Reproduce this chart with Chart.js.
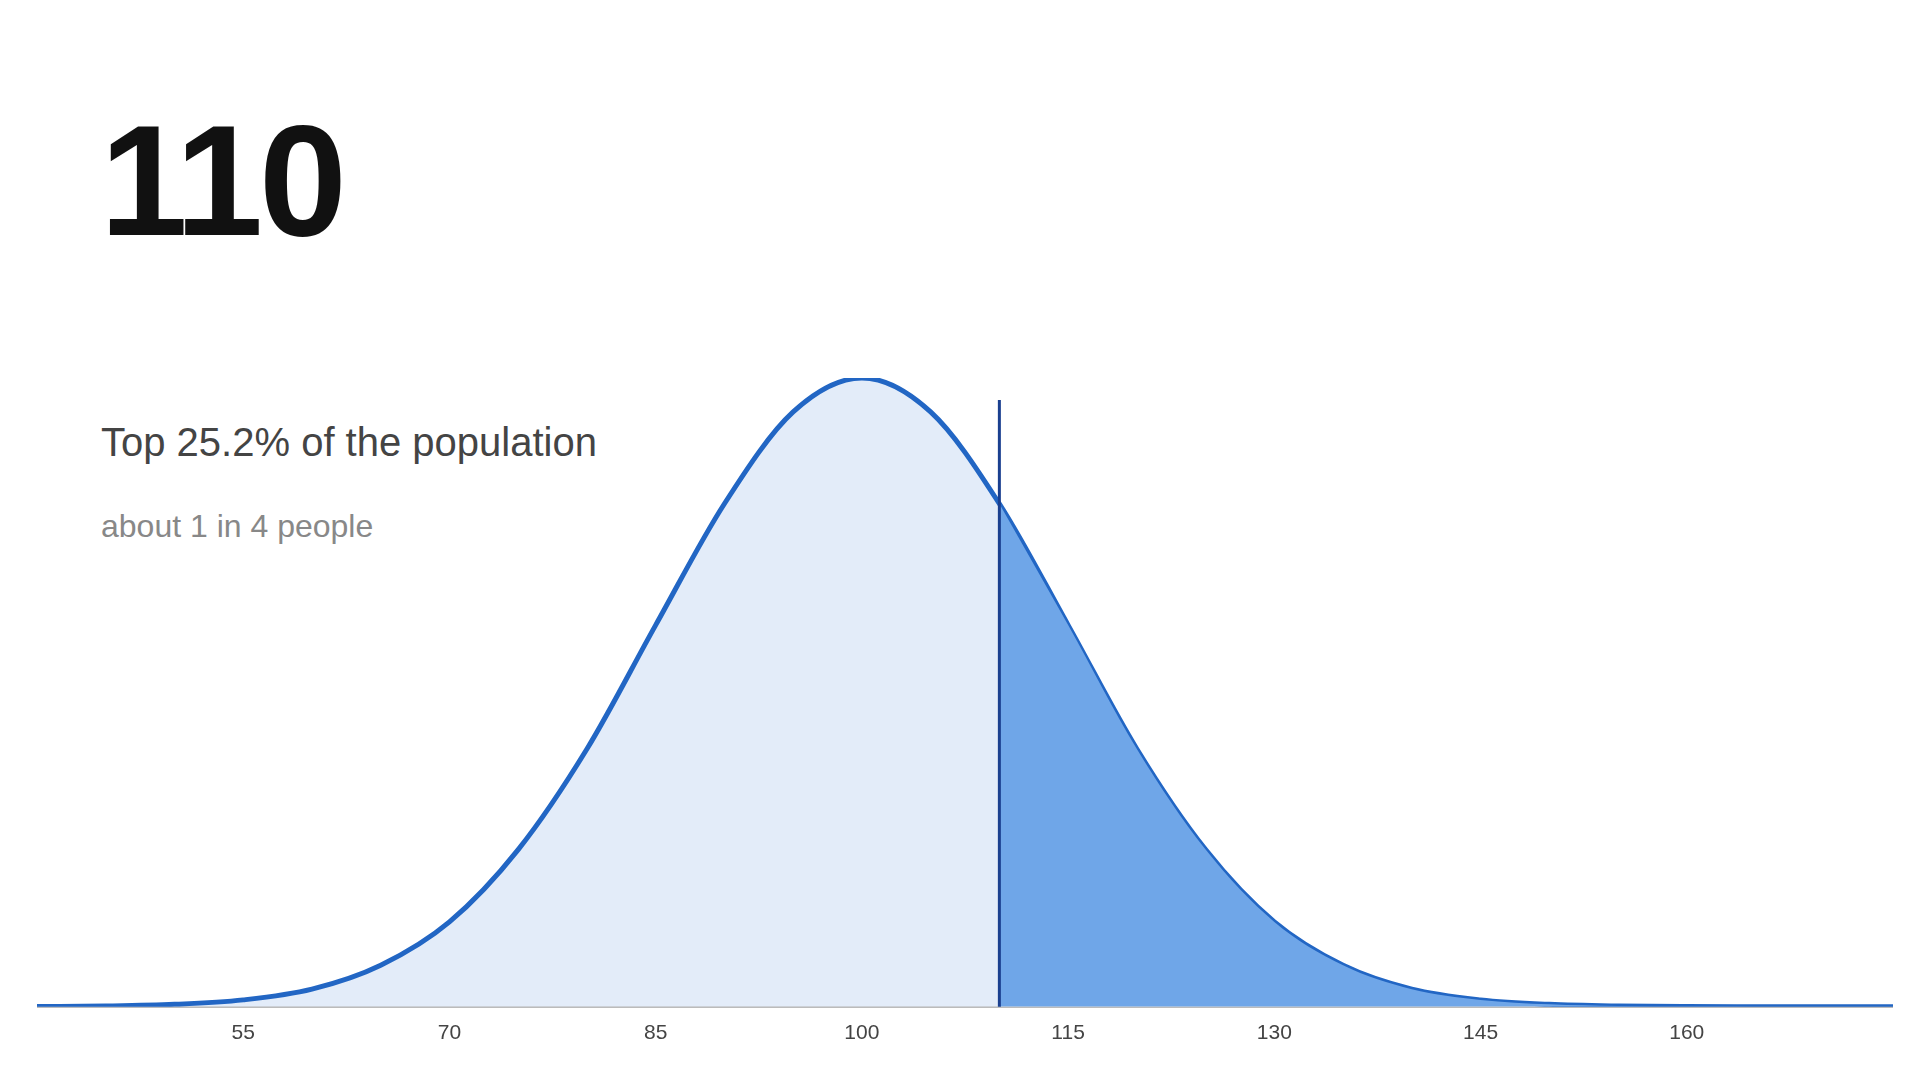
<!DOCTYPE html>
<html><head><meta charset="utf-8">
<script src="https://cdn.jsdelivr.net/npm/chart.js@4"></script>
<style>
body{margin:0;width:1920px;height:1080px;background:#fff;font-family:"Helvetica Neue",Arial,"Liberation Sans",sans-serif;position:relative;overflow:hidden}
#score{position:absolute;left:100px;top:90px;font-size:158px;font-weight:bold;color:#111;letter-spacing:-4px}
#t1{position:absolute;left:101px;top:420px;font-size:40px;color:#444}
#t2{position:absolute;left:101px;top:508px;font-size:32px;color:#888}
#wrap{position:absolute;left:37px;top:370px;width:1856px;height:690px}
</style></head><body>
<div id="score">110</div>
<div id="t1">Top 25.2% of the population</div>
<div id="t2">about 1 in 4 people</div>
<div id="wrap"><canvas id="c"></canvas></div>
<script>
const xs=[40,45,50,55,60,65,70,75,80,85,90,95,100,105,110,115,120,125,130,135,140,145,150,155,160,165,170,175];
const ys=[0.03,0.12,0.39,1.1,2.8,6.6,13.5,25,41,60.7,80,94.6,100,94.6,80,60.7,41,25,13.5,6.6,2.8,1.1,0.39,0.12,0.03,0.01,0.0,0.0];
const score=110;
const markerTop=[96.5];
const tickValues=[55,70,85,100,115,130,145,160];
const all=xs.map((x,i)=>({x,y:ys[i]}));
const tail=all.filter(p=>p.x>=score);
new Chart(document.getElementById('c'),{
 type:'line',
 data:{datasets:[
  {data:tail,borderWidth:0,pointRadius:0,fill:'origin',backgroundColor:'#6fa6e8',cubicInterpolationMode:'monotone'},
  {data:all,borderColor:'#2266c4',borderWidth:5,pointRadius:0,fill:'origin',backgroundColor:'#e3ecf9',cubicInterpolationMode:'monotone'}
 ]},
 options:{responsive:true,maintainAspectRatio:false,animation:false,
  layout:{padding:{top:8}},
  plugins:{legend:{display:false},tooltip:{enabled:false}},
  scales:{
   x:{type:'linear',min:40,max:175,grid:{display:false,drawTicks:false},border:{color:'#bbb',width:2},
      afterBuildTicks:s=>{s.ticks=tickValues.map(v=>({value:v}));},
      ticks:{color:'#444',font:{size:21},padding:14}},
   y:{min:0,max:100,display:false}
  }},
 plugins:[{id:'marker',afterDatasetsDraw(ch){const c=ch.ctx,x=ch.scales.x.getPixelForValue(score);
   c.save();c.strokeStyle='#1a3f8f';c.lineWidth=3;c.beginPath();
   c.moveTo(x,ch.scales.y.getPixelForValue(markerTop[0]));c.lineTo(x,ch.scales.y.getPixelForValue(0));c.stroke();c.restore();}}]
});
</script></body></html>
